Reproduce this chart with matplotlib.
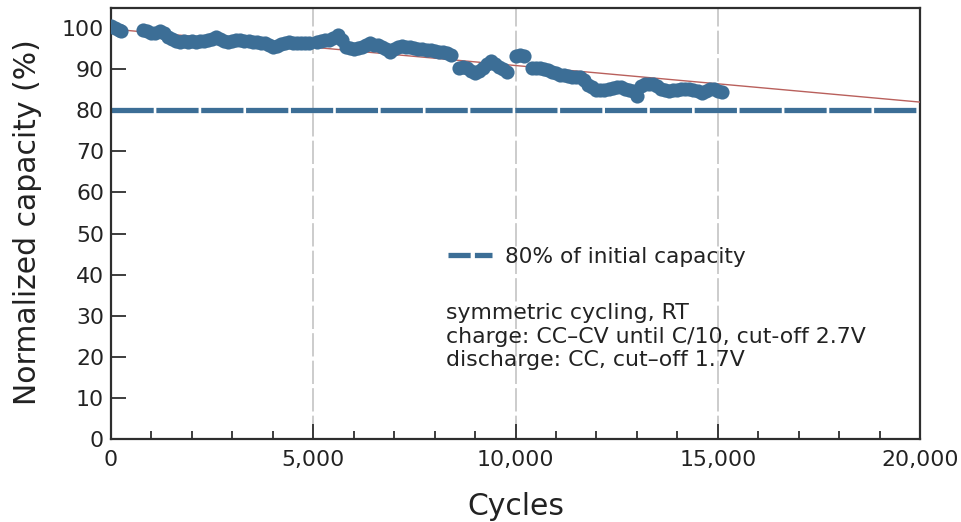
import matplotlib
matplotlib.use("Agg")
import matplotlib.pyplot as plt
from matplotlib.lines import Line2D
from matplotlib.ticker import MultipleLocator, FuncFormatter

# ---- data ----
cycles = [0, 100, 200, 250, 800, 900, 1000, 1100, 1200, 1300, 1400, 1500, 1600, 1700,
          1800, 1900, 2000, 2100, 2200, 2300, 2400, 2500, 2600, 2700, 2800, 2900, 3000,
          3100, 3200, 3300, 3400, 3500, 3600, 3700, 3800, 3900, 4000, 4100, 4200, 4300,
          4400, 4500, 4600, 4700, 4800, 4900, 5100, 5200, 5300, 5400, 5500, 5600, 5700,
          5800, 5900, 6000, 6100, 6200, 6300, 6400, 6500, 6600, 6700, 6800, 6900, 7000,
          7100, 7200, 7300, 7400, 7500, 7600, 7700, 7800, 7900, 8000, 8100, 8200, 8300,
          8400, 8600, 8700, 8800, 8900, 9000, 9100, 9200, 9300, 9400, 9500, 9600, 9700,
          9800, 10000, 10100, 10200, 10400, 10500, 10600, 10700, 10800, 10900, 11000,
          11100, 11200, 11300, 11400, 11500, 11600, 11700, 11800, 11900, 12000, 12100,
          12200, 12300, 12400, 12500, 12600, 12700, 12800, 12900, 13000, 13100, 13200,
          13300, 13400, 13500, 13600, 13700, 13800, 13900, 14000, 14100, 14200, 14300,
          14400, 14500, 14600, 14700, 14800, 14900, 15000, 15100]
capacity = [100.5, 100.0, 99.6, 99.4, 99.5, 99.2, 98.7, 98.9, 99.4, 98.8, 97.9, 97.3, 96.8, 96.7,
            96.9, 96.6, 96.8, 96.6, 96.9, 96.8, 97.1, 97.4, 97.9, 97.3, 96.9, 96.7, 96.9,
            97.0, 97.1, 96.8, 96.9, 96.7, 96.6, 96.5, 96.3, 95.8, 95.4, 95.6, 96.1, 96.5,
            96.7, 96.5, 96.4, 96.3, 96.3, 96.5, 96.6, 96.8, 97.0, 97.2, 97.6, 98.3, 97.0,
            95.5, 95.2, 95.0, 95.1, 95.5, 96.0, 96.3, 96.0, 95.8, 95.5, 94.8, 94.3, 94.8,
            95.3, 95.7, 95.5, 95.3, 95.1, 95.0, 94.8, 94.7, 94.6, 94.4, 94.3, 94.2, 93.9,
            93.4, 90.3, 90.6, 90.4, 89.6, 89.0, 89.5, 90.2, 91.2, 92.1, 91.3, 90.6, 90.1,
            89.4, 93.3, 93.4, 93.2, 90.3, 90.2, 90.2, 90.0, 89.7, 89.4, 89.0,
            88.7, 88.5, 88.3, 88.2, 88.2, 88.2, 87.4, 86.2, 85.6, 85.0, 84.9,
            85.0, 85.1, 85.4, 85.7, 85.6, 85.2, 85.0, 84.8, 83.4, 85.8, 86.4,
            86.5, 86.4, 86.0, 85.3, 84.9, 84.8, 84.9, 85.0, 85.2, 85.3, 85.1,
            84.9, 84.6, 84.2, 84.6, 85.3, 85.2, 84.8, 84.4]

trend_x = [0, 20000]
trend_y = [99.8, 82.0]
limit_x = [0, 20000]
limit_y = [80, 80]

x_major = [0, 5000, 10000, 15000, 20000]
y_major = [0, 10, 20, 30, 40, 50, 60, 70, 80, 90, 100]
grid_x = [5000, 10000, 15000]

legend_label = "80% of initial capacity"
note_text = ("symmetric cycling, RT\n"
             "charge: CC\u2013CV until C/10, cut-off 2.7V\n"
             "discharge: CC, cut\u2013off 1.7V")

# ---- style ----
blue = "#3c6e96"
red = "#b9605c"
dark = "#2e2e2e"
plt.rcParams["font.family"] = ["DejaVu Sans"]

fig = plt.figure(figsize=(9.61, 5.22), dpi=100)
ax = fig.add_axes([111 / 961, 1 - 439 / 522, (920 - 111) / 961, (439 - 8) / 522])

for gx in grid_x:
    ax.axvline(gx, color="#c4c4c4", lw=1.2, ls=(0, (14, 2.5)), zorder=0)

ax.plot(limit_x, limit_y, color=blue, lw=3.8, ls=(0, (8, 0.5)),
        solid_capstyle="butt", dash_capstyle="butt", zorder=2)
ax.plot(trend_x, trend_y, color=red, lw=1.0, zorder=3)
ax.plot(cycles, capacity, "o", color=blue, ms=10.2, mec="none", zorder=4)

ax.set_xlim(0, 20000)
ax.set_ylim(0, 104.9)
ax.set_xticks(x_major)
ax.set_yticks(y_major)
ax.xaxis.set_minor_locator(MultipleLocator(1000))
ax.xaxis.set_major_formatter(FuncFormatter(lambda v, p: f"{int(v):,}"))

ax.tick_params(axis="both", which="major", direction="in", length=11, width=1.3,
               color=dark, labelsize=15.8, labelcolor="#222222")
ax.tick_params(axis="x", which="major", pad=8)
ax.tick_params(axis="y", which="major", pad=5)
ax.tick_params(axis="x", which="minor", direction="in", length=6, width=1.3, color=dark)
ax.tick_params(top=False, right=False)
for s in ax.spines.values():
    s.set_color(dark)
    s.set_linewidth(1.6)

fig.text(28 / 961, 1 - 222 / 522, "Normalized capacity (%)", rotation=90,
         ha="center", va="center", fontsize=21.5, color="#222222")
fig.text(515.5 / 961, 1 - 515 / 522, "Cycles", ha="center", va="baseline",
         fontsize=21.5, color="#222222")

proxy = Line2D([], [], color=blue, lw=3.8, ls=(0, (4.2, 0.8)), dash_capstyle="butt")
ax.legend([proxy], [legend_label], loc="center left",
          bbox_to_anchor=((448 - 111) / 809, (439 - 257) / 431),
          frameon=False, fontsize=15.6, handlelength=2.05, handletextpad=0.6,
          borderpad=0, borderaxespad=0, labelcolor="#222222")

ax.text((446 - 111) / 809, (439 - 303) / 431, note_text, transform=ax.transAxes,
        ha="left", va="top", fontsize=15.8, linespacing=1.22, color="#222222")

fig.savefig("out.png", dpi=100)
